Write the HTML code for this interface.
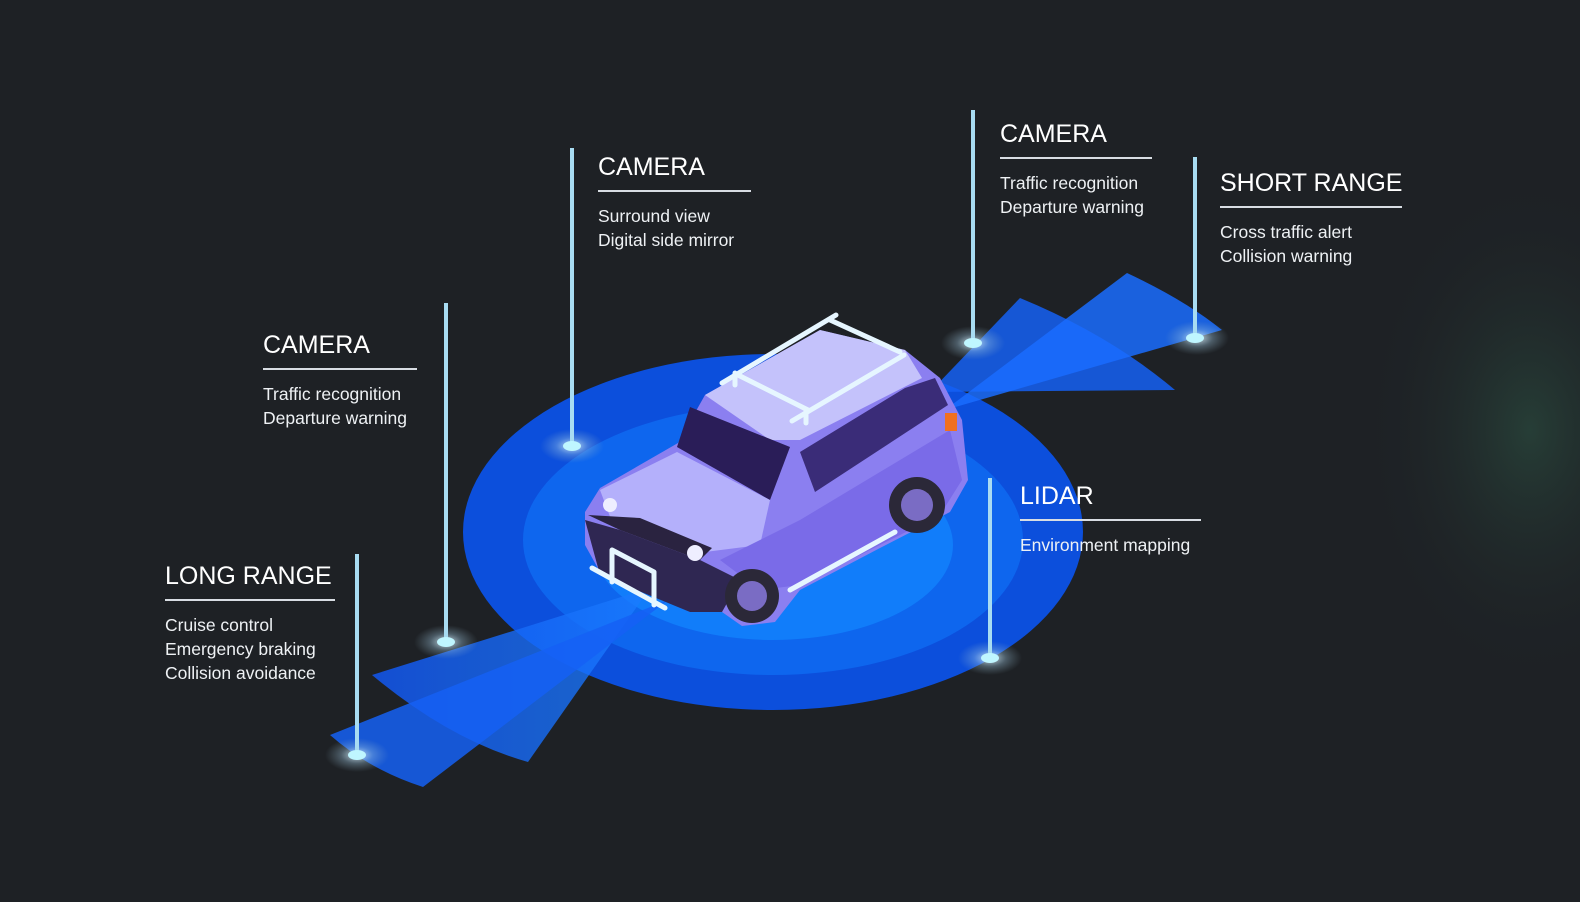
<!DOCTYPE html>
<html><head><meta charset="utf-8"><style>
html,body{margin:0;padding:0;background:#1e2125;}
body{width:1580px;height:902px;position:relative;overflow:hidden;font-family:"Liberation Sans",sans-serif;color:#fff;}
.lbl{position:absolute;white-space:nowrap;}
.t{font-size:25px;font-weight:300;letter-spacing:0px;line-height:30px;}
.u{height:1.5px;background:#d8dde3;margin:8px 0 12px 0;}
.d{font-size:17.5px;line-height:24px;color:#eef1f4;}
</style></head><body>
<svg width="1580" height="902" style="position:absolute;left:0;top:0">
<defs>
<radialGradient id="gl" cx="0.5" cy="0.5" r="0.5"><stop offset="0" stop-color="#2a4a3e" stop-opacity="0.7"/><stop offset="1" stop-color="#1e2125" stop-opacity="0"/></radialGradient>
<radialGradient id="glow" cx="0.5" cy="0.5" r="0.5"><stop offset="0" stop-color="#e8f8ff" stop-opacity="0.9"/><stop offset="0.5" stop-color="#a0c8e0" stop-opacity="0.35"/><stop offset="1" stop-color="#8ab" stop-opacity="0"/></radialGradient>
<linearGradient id="bm" x1="0" y1="0" x2="1" y2="0"><stop offset="0" stop-color="#1256f0" stop-opacity="0.95"/><stop offset="1" stop-color="#1a7cff" stop-opacity="0.85"/></linearGradient>
</defs>
<ellipse cx="1530" cy="430" rx="170" ry="260" fill="url(#gl)"/>
<ellipse cx="773" cy="532" rx="310" ry="178" fill="#0c4fdc"/>
<ellipse cx="773" cy="540" rx="250" ry="135" fill="#0e66ee"/>
<ellipse cx="773" cy="545" rx="180" ry="95" fill="#1288ff" opacity="0.7"/>
<path d="M650 588 L372 675 Q450 740 528 762 Z" fill="url(#bm)" opacity="0.9"/>
<path d="M668 600 L330 735 Q370 770 423 787 Z" fill="#1560f5" opacity="0.85"/>
<path d="M930 392 L1020 298 Q1110 335 1175 390 Z" fill="#1560f5" opacity="0.85"/>
<path d="M945 410 L1127 273 Q1185 300 1222 330 Z" fill="#1a6cff" opacity="0.85"/>
<g>
<path d="M585 512 L600 488 L678 443 L705 395 L820 330 L905 350 L940 378 L962 420 L968 480 L950 512 L880 548 L800 590 L775 622 L742 626 L722 612 L690 612 L600 572 L585 545 Z" fill="#8b7ff0"/>
<path d="M585 520 L600 575 L690 612 L722 612 L740 580 L700 560 L620 530 Z" fill="#2f2752"/>
<path d="M705 395 L820 330 L905 350 L922 378 L800 440 L770 440 Z" fill="#c4c2fb"/>
<path d="M677 447 L690 407 L790 447 L770 500 Z" fill="#2a1d58"/>
<path d="M800 452 L905 388 L935 378 L948 405 L815 492 Z" fill="#3a2c78"/>
<path d="M600 490 L677 452 L770 500 L760 545 L705 552 L612 522 Z" fill="#b4b0fb"/>
<path d="M720 560 L800 520 L950 430 L962 480 L940 515 L800 585 L760 590 Z" fill="#7a6be8"/>
<path d="M588 515 L620 530 L700 560 L712 548 L640 518 Z" fill="#2a2340"/>
<circle cx="752" cy="596" r="27" fill="#2b2838"/><circle cx="752" cy="596" r="15" fill="#7a6cc4"/>
<circle cx="917" cy="505" r="28" fill="#2b2838"/><circle cx="917" cy="505" r="16" fill="#7a6cc4"/>
<circle cx="610" cy="505" r="7" fill="#eef"/><circle cx="695" cy="553" r="8" fill="#eef"/>
<rect x="945" y="413" width="12" height="18" fill="#f07020"/>
<g stroke="#e6f6ff" stroke-width="5" stroke-linecap="round" fill="none">
<path d="M722 383 L836 315"/><path d="M792 421 L904 355"/>
<path d="M738 375 L808 410"/><path d="M830 320 L900 352"/>
<path d="M735 373 L735 385"/><path d="M806 410 L806 423"/>
<path d="M592 568 L665 608"/><path d="M612 550 L612 582 M654 572 L654 605 M612 550 L654 572"/>
<path d="M790 590 L895 532"/>
</g>
</g>
<g fill="url(#glow)">
<ellipse cx="572" cy="446" rx="32" ry="17"/><ellipse cx="973" cy="343" rx="32" ry="17"/>
<ellipse cx="1197" cy="338" rx="32" ry="17"/><ellipse cx="446" cy="642" rx="32" ry="17"/>
<ellipse cx="990" cy="658" rx="32" ry="17"/><ellipse cx="357" cy="755" rx="32" ry="17"/>
</g>
<g stroke="#a8dcf2" stroke-width="4">
<line x1="572" y1="148" x2="572" y2="446"/><line x1="973" y1="110" x2="973" y2="343"/>
<line x1="1195" y1="157" x2="1195" y2="338"/><line x1="446" y1="303" x2="446" y2="642"/>
<line x1="990" y1="478" x2="990" y2="658"/><line x1="357" y1="554" x2="357" y2="755"/>
</g>
<g fill="#bff6ff">
<ellipse cx="572" cy="446" rx="9" ry="5"/><ellipse cx="973" cy="343" rx="9" ry="5"/>
<ellipse cx="1195" cy="338" rx="9" ry="5"/><ellipse cx="446" cy="642" rx="9" ry="5"/>
<ellipse cx="990" cy="658" rx="9" ry="5"/><ellipse cx="357" cy="755" rx="9" ry="5"/>
</g>
</svg>
<div class="lbl" style="left:598px;top:152px;width:153px"><div class="t">CAMERA</div><div class="u"></div><div class="d">Surround view<br>Digital side mirror</div></div>
<div class="lbl" style="left:1000px;top:119px;width:152px"><div class="t">CAMERA</div><div class="u"></div><div class="d">Traffic recognition<br>Departure warning</div></div>
<div class="lbl" style="left:1220px;top:168px;width:182px"><div class="t">SHORT RANGE</div><div class="u"></div><div class="d">Cross traffic alert<br>Collision warning</div></div>
<div class="lbl" style="left:263px;top:330px;width:154px"><div class="t">CAMERA</div><div class="u"></div><div class="d">Traffic recognition<br>Departure warning</div></div>
<div class="lbl" style="left:1020px;top:481px;width:181px"><div class="t">LIDAR</div><div class="u"></div><div class="d">Environment mapping</div></div>
<div class="lbl" style="left:165px;top:561px;width:170px"><div class="t">LONG RANGE</div><div class="u"></div><div class="d">Cruise control<br>Emergency braking<br>Collision avoidance</div></div>
</body></html>
